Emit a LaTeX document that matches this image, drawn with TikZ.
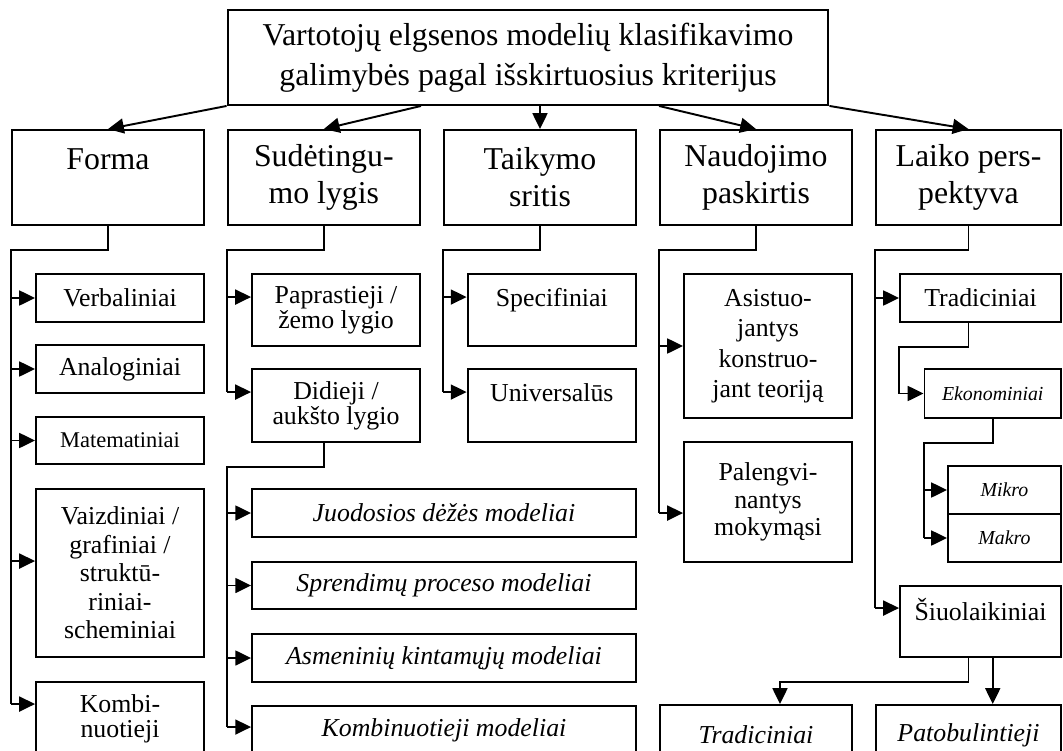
\documentclass[tikz,border=0pt]{standalone}
\usepackage{fontspec}
\setmainfont{Liberation Serif}
\usetikzlibrary{arrows.meta}

\begin{document}
\begin{tikzpicture}[x=0.02cm, y=-0.02cm, line width=1.1pt,
	box/.style={draw, inner sep=0pt, align=center},
	big/.style={box, font=\fontsize{18.1}{21}\selectfont},
	kid/.style={box, font=\fontsize{14.7}{14.2}\selectfont},
	ikid/.style={box, font=\fontsize{14.7}{14.2}\selectfont\itshape},
	tiny/.style={box, font=\fontsize{11.3}{13}\selectfont\itshape},
	arr/.style={-{Triangle[length=9pt,width=8.5pt]}}]
	\useasboundingbox (0,0) rectangle (1063,751);
	\clip (0,0) rectangle (1063,751);

	% top and first level
	\node at (528,57.5) [box, font=\fontsize{18.1}{22.7}\selectfont, minimum width=12.02cm, minimum height=1.9cm] (top) {Vartotojų elgsenos modelių klasifikavimo\\galimybės pagal išskirtuosius kriterijus};
	\node at (108,177.5) [big, minimum width=3.84cm, minimum height=1.9cm] (forma) {Forma\\~};
	\node at (323.8,177.5) [big, minimum width=3.85cm, minimum height=1.9cm] (sudet) {Sudėtingu-\\mo lygis};
	\node at (540,177.5) [big, minimum width=3.84cm, minimum height=1.9cm] (taik) {Taikymo\\sritis};
	\node at (756,177.5) [big, minimum width=3.84cm, minimum height=1.9cm] (naud) {Naudojimo\\paskirtis};
	\node at (968.5,177.5) [big, minimum width=3.7cm, minimum height=1.9cm] (laiko) {Laiko pers-\\pektyva};

	% Forma
	\node at (120,298) [kid, minimum width=3.36cm, minimum height=0.96cm] (verb) {Verbaliniai};
	\node at (120,369) [kid, minimum width=3.36cm, minimum height=0.96cm] (analog) {Analoginiai};
	\node at (120,440.5) [kid, font=\fontsize{12.8}{14}\selectfont, minimum width=3.36cm, minimum height=0.94cm] (matem) {Matematiniai};
	\node at (120,573) [kid, font=\fontsize{14.7}{16.2}\selectfont, minimum width=3.36cm, minimum height=3.36cm] (vaizd) {Vaizdiniai /\\grafiniai /\\struktū-\\riniai-\\scheminiai};
	\node at (120,719) [kid, minimum width=3.36cm, minimum height=1.48cm] (kombi) {Kombi-\\nuotieji};

	% Sudetingumo lygis
	\node at (336,310) [kid, minimum width=3.36cm, minimum height=1.44cm] (papr) {Paprastieji /\\žemo lygio};
	\node at (336,405.5) [kid, minimum width=3.36cm, minimum height=1.46cm] (didi) {Didieji /\\aukšto lygio};
	\node at (444,513) [ikid, minimum width=7.68cm, minimum height=0.96cm] (juod) {Juodosios dėžės modeliai};
	\node at (444,585.5) [ikid, minimum width=7.68cm, minimum height=0.94cm] (spren) {Sprendimų proceso modeliai};
	\node at (444,658) [ikid, minimum width=7.68cm, minimum height=0.96cm] (asmen) {Asmeninių kintamųjų modeliai};
	\node at (444,730) [ikid, minimum width=7.68cm, minimum height=0.96cm] (kmod) {Kombinuotieji modeliai};

	% Taikymo sritis
	\node at (551.8,310) [kid, minimum width=3.37cm, minimum height=1.44cm] (spec) {Specifiniai\\~};
	\node at (551.8,405.5) [kid, minimum width=3.37cm, minimum height=1.46cm] (univ) {Universalūs\\~};

	% Naudojimo paskirtis
	\node at (768,346) [kid, font=\fontsize{14.7}{17.3}\selectfont, minimum width=3.36cm, minimum height=2.88cm] (asist) {Asistuo-\\jantys\\konstruo-\\jant teoriją};
	\node at (768,502) [kid, font=\fontsize{14.7}{15.6}\selectfont, minimum width=3.36cm, minimum height=2.4cm] (paleng) {Palengvi-\\nantys\\mokymąsi};

	% Laiko perspektyva
	\node at (980.5,298) [kid, minimum width=3.22cm, minimum height=0.96cm] (trad) {Tradiciniai};
	\node at (992.75,393.5) [tiny, minimum width=2.73cm, minimum height=0.98cm] (ekon) {Ekonominiai};
	\node at (1004.5,490) [tiny, minimum width=2.26cm, minimum height=0.96cm] (mikro) {Mikro};
	\node at (1004.5,538) [tiny, minimum width=2.26cm, minimum height=0.96cm] (makro) {Makro};
	\node at (980.5,621.5) [kid, minimum width=3.22cm, minimum height=1.42cm] (siuo) {Šiuolaikiniai\\~};
	\node at (756,735) [ikid, minimum width=3.84cm, minimum height=1.2cm] (btrad) {Tradiciniai};
	\node at (968.5,735) [ikid, minimum width=3.7cm, minimum height=1.2cm] (patob) {Patobulintieji};

	\coordinate (paprIn) at ([yshift=-0.48cm]papr.north west);
	\coordinate (didiIn) at ([yshift=-0.48cm]didi.north west);
	\coordinate (specIn) at ([yshift=-0.48cm]spec.north west);
	\coordinate (univIn) at ([yshift=-0.48cm]univ.north west);
	\coordinate (vaizdIn) at ([yshift=-1.46cm]vaizd.north west);
	\coordinate (kombiIn) at ([yshift=-0.46cm]kombi.north west);
	\coordinate (kmodIn) at ([yshift=-0.44cm]kmod.north west);
	\coordinate (palengIn) at ([yshift=-1.44cm]paleng.north west);
	\coordinate (siuoIn) at ([yshift=-0.46cm]siuo.north west);

	\draw [arr] (top.south west) -- (forma.north);
	\draw [arr] (top.south -| sudet.east) -- (sudet.north);
	\draw [arr] (top.south -| taik.north) -- (taik.north);
	\draw [arr] (top.south -| naud.west) -- (naud.north);
	\draw [arr] (top.south east) -- (laiko.north);

	\draw (forma.south) -- ++(0,24) -| (forma.west |- kombiIn);
	\draw [arr] (forma.west |- verb.west) -- (verb.west);
	\draw [arr] (forma.west |- analog.west) -- (analog.west);
	\draw [arr] (forma.west |- matem.west) -- (matem.west);
	\draw [arr] (forma.west |- vaizdIn) -- (vaizdIn);
	\draw [arr] (forma.west |- kombiIn) -- (kombiIn);

	\draw (sudet.south) -- ++(0,24) -| (sudet.west |- didiIn);
	\draw [arr] (sudet.west |- paprIn) -- (paprIn);
	\draw [arr] (sudet.west |- didiIn) -- (didiIn);
	\draw (didi.south -| sudet.south) -- ++(0,24) -| (sudet.west |- kmodIn);
	\draw [arr] (sudet.west |- juod.west) -- (juod.west);
	\draw [arr] (sudet.west |- spren.west) -- (spren.west);
	\draw [arr] (sudet.west |- asmen.west) -- (asmen.west);
	\draw [arr] (sudet.west |- kmodIn) -- (kmodIn);

	\draw (taik.south) -- ++(0,24) -| (taik.west |- univIn);
	\draw [arr] (taik.west |- specIn) -- (specIn);
	\draw [arr] (taik.west |- univIn) -- (univIn);

	\draw (naud.south) -- ++(0,24) -| (naud.west |- palengIn);
	\draw [arr] (naud.west |- asist.west) -- (asist.west);
	\draw [arr] (naud.west |- palengIn) -- (palengIn);

	\draw (laiko.south) -- ++(0,24) -| (laiko.west |- siuoIn);
	\draw [arr] (laiko.west |- trad.west) -- (trad.west);
	\draw [arr] (laiko.west |- siuoIn) -- (siuoIn);
	\draw [arr] (trad.south -| laiko.south) -- ++(0,24) -| (trad.west |- ekon.west) -- (ekon.west);
	\draw (ekon.south) -- ++(0,24) -| (ekon.west |- makro.west);
	\draw [arr] (ekon.west |- mikro.west) -- (mikro.west);
	\draw [arr] (ekon.west |- makro.west) -- (makro.west);
	\draw [arr] (siuo.south -| laiko.south) -- ++(0,24) -| ([xshift=0.48cm]btrad.north);
	\draw [arr] (siuo.south -| ekon.south) -- (patob.north -| ekon.south);
\end{tikzpicture}
\end{document}
